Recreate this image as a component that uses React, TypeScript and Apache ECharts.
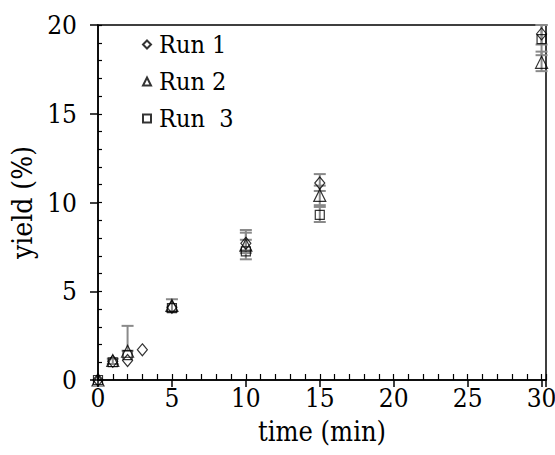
import React, { useEffect, useRef } from "react";
import * as echarts from "echarts";

// Sampling times (min) and measured yields (%) for each run
const timesRun1 = [0, 1, 2, 3, 5, 10, 15, 30];
const yieldRun1 = [0, 1.05, 1.1, 1.7, 4.1, 7.7, 11.1, 19.5];

const timesRun2 = [0, 1, 2, 5, 10, 15, 30];
const yieldRun2 = [0, 1.1, 1.62, 4.2, 7.6, 10.4, 17.9];

const timesRun3 = [0, 1, 2, 5, 10, 15, 30];
const yieldRun3 = [0, 1.0, 1.4, 4.05, 7.25, 9.3, 19.2];

// Error bars: [time, low, high]
const errRun1: number[][] = [
  [1, 0.9, 1.2],
  [5, 3.85, 4.55],
  [10, 7.15, 8.45],
  [15, 10.65, 11.6],
  [30, 18.9, 20.0],
];
const errRun2: number[][] = [
  [2, 1.65, 3.05],
  [10, 7.3, 7.9],
  [15, 9.85, 10.95],
  [30, 17.4, 18.5],
];
const errRun3: number[][] = [
  [10, 6.8, 8.3],
  [15, 8.9, 9.75],
  [30, 18.3, 20.0],
];

const seriesNames = ["Run 1", "Run 2", "Run  3"];
const xTicks = [0, 5, 10, 15, 20, 25, 30];

const FONT = "DejaVu Serif Condensed";
const GRAY = "#8a8a8a";

function pairs(xs: number[], ys: number[]) {
  return xs.map((x, i) => [x, ys[i]]);
}

function errorSeries(data: number[][]) {
  return {
    type: "custom",
    xAxisIndex: 0,
    yAxisIndex: 0,
    silent: true,
    z: 1,
    encode: { x: 0, y: [1, 2] },
    data,
    renderItem: (_params: any, api: any) => {
      const x = api.value(0);
      const lo = api.coord([x, api.value(1)]);
      const hi = api.coord([x, api.value(2)]);
      const hw = 6;
      const style = { stroke: GRAY, lineWidth: 2 };
      return {
        type: "group",
        children: [
          { type: "line", shape: { x1: lo[0], y1: lo[1], x2: hi[0], y2: hi[1] }, style },
          { type: "line", shape: { x1: lo[0] - hw, y1: lo[1], x2: lo[0] + hw, y2: lo[1] }, style },
          { type: "line", shape: { x1: hi[0] - hw, y1: hi[1], x2: hi[0] + hw, y2: hi[1] }, style },
        ],
      };
    },
  };
}

function markerSeries(name: string, data: number[][], symbol: string, size: any) {
  return {
    name,
    type: "scatter",
    xAxisIndex: 0,
    yAxisIndex: 0,
    z: 3,
    symbol,
    symbolSize: size,
    data,
    itemStyle: { color: "rgba(255,255,255,0)", borderColor: "#000", borderWidth: 1.2 },
  };
}

export default function App() {
  const ref = useRef<HTMLDivElement>(null);

  useEffect(() => {
    document.body.style.margin = "0";
    if (!ref.current) return;
    const chart = echarts.init(ref.current, undefined, { renderer: "svg" });
    const X_MAX = 30.3;
    const gridRect = { left: 98, top: 25, width: 448, height: 355, outerBoundsMode: "none", containLabel: false };
    const black = { color: "#000", width: 1.5 };

    chart.setOption({
      animation: false,
      backgroundColor: "#fff",
      textStyle: { fontFamily: FONT },
      grid: [
        // main frame with labelled axes
        { ...gridRect, show: true, borderColor: "#000", borderWidth: 1.5, backgroundColor: "transparent" },
        // overlay carrying the inward unit ticks
        { ...gridRect },
      ],
      legend: {
        orient: "vertical",
        left: 137,
        top: 25,
        itemWidth: 8,
        itemHeight: 8,
        itemGap: 8,
        data: seriesNames,
        textStyle: { fontFamily: FONT, fontSize: 25, color: "#000", lineHeight: 29, padding: [0, 0, 0, 3] },
      },
      xAxis: [
        {
          type: "value",
          gridIndex: 0,
          position: "bottom",
          min: 0,
          max: X_MAX,
          interval: 5,
          axisLine: { show: true, lineStyle: black },
          splitLine: { show: false },
          axisTick: { show: true, inside: false, length: 7, lineStyle: black },
          axisLabel: {
            margin: 5,
            fontFamily: FONT,
            fontSize: 26,
            color: "#000",
            formatter: (v: number) => (xTicks.includes(v) ? String(v) : ""),
          },
          name: "time (min)",
          nameLocation: "middle",
          nameGap: 38,
          nameTextStyle: { fontFamily: FONT, fontSize: 27, color: "#000" },
        },
        {
          type: "value",
          gridIndex: 1,
          position: "bottom",
          min: 0,
          max: X_MAX,
          interval: 1,
          axisLine: { show: false },
          splitLine: { show: false },
          axisTick: { show: true, inside: true, length: 6, lineStyle: { color: "#000", width: 1.2 } },
          axisLabel: { show: false },
        },
      ],
      yAxis: [
        {
          type: "value",
          gridIndex: 0,
          position: "left",
          min: 0,
          max: 20,
          interval: 5,
          axisLine: { show: true, lineStyle: black },
          splitLine: { show: false },
          axisTick: { show: true, inside: false, length: 8, lineStyle: black },
          axisLabel: { margin: 21, fontFamily: FONT, fontSize: 26, color: "#000" },
          name: "yield (%)",
          nameLocation: "middle",
          nameGap: 53,
          nameTextStyle: { fontFamily: FONT, fontSize: 28, color: "#000" },
        },
        {
          type: "value",
          gridIndex: 1,
          position: "left",
          min: 0,
          max: 20,
          interval: 1,
          axisLine: { show: false },
          splitLine: { show: false },
          axisTick: { show: true, inside: true, length: 4, lineStyle: { color: "#000", width: 1.2 } },
          axisLabel: { show: false },
        },
      ],
      series: [
        errorSeries(errRun1),
        errorSeries(errRun2),
        errorSeries(errRun3),
        markerSeries(seriesNames[0], pairs(timesRun1, yieldRun1), "diamond", [10, 12]),
        markerSeries(seriesNames[1], pairs(timesRun2, yieldRun2), "triangle", 12),
        markerSeries(seriesNames[2], pairs(timesRun3, yieldRun3), "rect", 9),
      ],
    });
    return () => chart.dispose();
  }, []);

  return <div ref={ref} style={{ width: 555, height: 455 }} />;
}
